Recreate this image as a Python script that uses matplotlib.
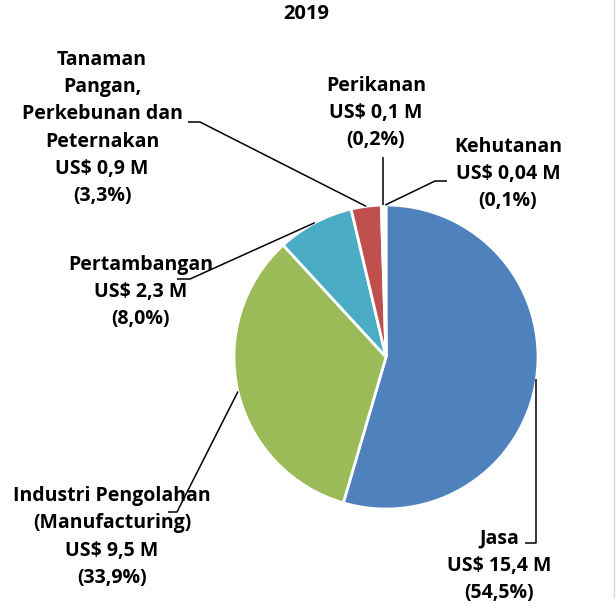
import matplotlib
matplotlib.use("Agg")
import matplotlib.pyplot as plt
import numpy as np

# data (US$ M) and labels as printed on the chart
sectors = ["Jasa", "Industri Pengolahan\n(Manufacturing)", "Pertambangan",
           "Tanaman\nPangan,\nPerkebunan dan\nPeternakan", "Perikanan", "Kehutanan"]
values = [15.4, 9.5, 2.3, 0.9, 0.1, 0.04]
value_text = ["US$ 15,4 M", "US$ 9,5 M", "US$ 2,3 M", "US$ 0,9 M", "US$ 0,1 M", "US$ 0,04 M"]
pct_text = ["(54,5%)", "(33,9%)", "(8,0%)", "(3,3%)", "(0,2%)", "(0,1%)"]
# the two smallest slices disappear under the white borders in the original
colors = ["#4F81BD", "#9BBB59", "#4BACC6", "#C0504D", "white", "white"]

# layout, in pixels from the top-left corner of the picture
W, H = 616, 605
CX, CY, R = 386, 357, 152
label_pos = [(499, 566), (112, 537), (141, 292), (102, 128), (376, 113), (508, 174)]
# leader line points after the anchor on the pie edge
elbows = [
    [("ax", 543), (525, 543)],
    [(177, 512), (168, 512)],
    [(190, 279), (177, 279)],
    [(200, 122), (188, 122)],
    [("ax", 157)],
    [(435, 181), (447, 181)],
]

plt.rcParams['font.family'] = ['Open Sans', 'DejaVu Sans']

fig = plt.figure(figsize=(W / 100, H / 100), dpi=100)
ax = fig.add_axes([0, 0, 1, 1])

wedges, _ = ax.pie(values, colors=colors, startangle=90, counterclock=False,
                   center=(CX, H - CY), radius=R, frame=True,
                   wedgeprops=dict(edgecolor="white", linewidth=2))
ax.set_xlim(0, W)
ax.set_ylim(0, H)
ax.axis("off")

for i, w in enumerate(wedges):
    mid = np.deg2rad((w.theta1 + w.theta2) / 2)
    axx = CX + R * np.cos(mid)
    axy = H - CY + R * np.sin(mid)
    xs, ys = [axx], [axy]
    for ex, ey in elbows[i]:
        xs.append(axx if ex == "ax" else ex)
        ys.append(H - ey)
    ax.plot(xs, ys, color="black", lw=1.1, solid_capstyle="butt")

    lx, ly = label_pos[i]
    txt = f"{sectors[i]}\n{value_text[i]}\n{pct_text[i]}"
    ax.text(lx, H - ly, txt, ha="center", va="center", fontsize=14,
            fontweight="bold", linespacing=1.48, color="black")

ax.text(306, H - 14, "2019", ha="center", va="center", fontsize=14.5,
        fontweight="bold")
# chart area border on the right
ax.plot([614, 614], [H, H - 597], color="#d9d9d9", lw=1)

fig.savefig("out.png", dpi=100, facecolor="white")
